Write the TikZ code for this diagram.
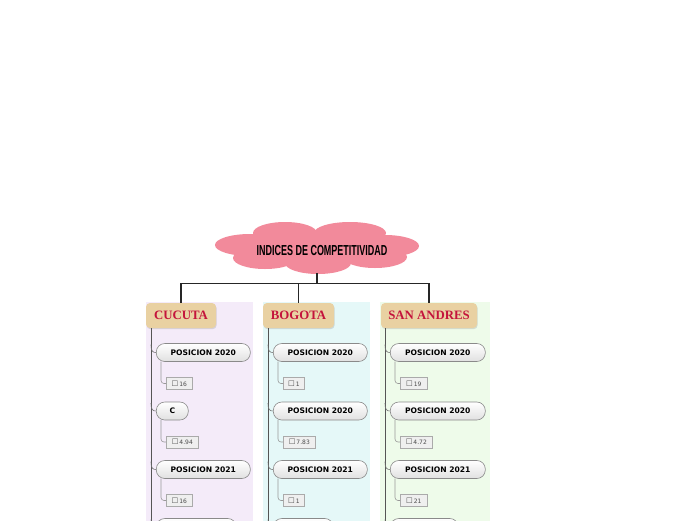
\documentclass[tikz,border=0pt]{standalone}
\usepackage{fontspec}
\setmainfont{Liberation Serif}
\newfontfamily\dvs{DejaVu Sans}
\newfontfamily\lsans{Liberation Sans}
\usetikzlibrary{shadows}
\definecolor{cloudpink}{HTML}{F28A9B}
\definecolor{topicfill}{HTML}{E9D1A2}
\definecolor{topictext}{HTML}{C4143C}
\definecolor{panelA}{HTML}{F4EBF9}
\definecolor{panelB}{HTML}{E5F8F8}
\definecolor{panelC}{HTML}{EEFBEA}
\definecolor{spine}{HTML}{555555}
\definecolor{subborder}{HTML}{8A8A8A}
\definecolor{leafborder}{HTML}{AAAAAA}
\definecolor{leaffill}{HTML}{EFEFEF}
\tikzset{
  main/.style={draw=black!85, line width=1.2pt},
  spineline/.style={draw=spine, line width=0.9pt},
  subconn/.style={draw=black!55, line width=0.6pt},
  leafconn/.style={draw=black!40, line width=0.6pt, rounded corners=3pt},
  topicbox/.style={rectangle, rounded corners=4pt, fill=topicfill, minimum height=25pt,
     font=\bfseries\fontsize{12.8}{13}\selectfont, text=topictext, inner sep=0pt,
     drop shadow={shadow xshift=0.6pt, shadow yshift=-1.2pt, opacity=0.25}},
  subbox/.style={rectangle, rounded corners=8.5pt, draw=subborder, line width=0.6pt,
     top color=white, bottom color=black!12, minimum height=18pt, inner sep=0pt,
     font=\dvs\bfseries\fontsize{7.6}{8}\selectfont, text=black},
  leafbox/.style={rectangle, draw=leafborder, fill=leaffill, line width=0.6pt,
     minimum height=12pt, inner sep=0pt, font=\dvs\fontsize{6}{6}\selectfont, text=black!70},
  panel/.style={fill=#1, draw=none}
}
\newcommand{\chk}{{\fontsize{7.5}{7}\selectfont\char"2610}}
\begin{document}
\begin{tikzpicture}[x=1pt,y=-1pt]
\useasboundingbox (0,0) rectangle (696,520);
\begin{scope}
\clip (0,0) rectangle (696,520);
% panels
\fill[panel=panelA] (146,302) rectangle (253,530);
\fill[panel=panelB] (263,302) rectangle (370,530);
\fill[panel=panelC] (380,302) rectangle (490,530);
% cloud
\begin{scope}[fill=cloudpink]
\fill (285,233) ellipse [x radius=32, y radius=11];
\fill (350,233) ellipse [x radius=36, y radius=11];
\fill (250,245) ellipse [x radius=35, y radius=11];
\fill (385,246) ellipse [x radius=34, y radius=11];
\fill (265,258) ellipse [x radius=32, y radius=11];
\fill (375,257) ellipse [x radius=32, y radius=11];
\fill (318,263) ellipse [x radius=33, y radius=11];
\fill (317,248) ellipse [x radius=78, y radius=17];
\end{scope}
\node[inner sep=0pt] (root) at (322,251) {\scalebox{0.62}[1]{\lsans\bfseries\fontsize{14.5}{14}\selectfont INDICES DE COMPETITIVIDAD}};
\coordinate (rootb) at (317,273);
\coordinate (hub) at (317,284);
% topics
\node[topicbox, minimum width=70pt] (t1) at (181,315.5) {CUCUTA};
\node[topicbox, minimum width=71pt] (t2) at (298.5,315.5) {BOGOTA};
\node[topicbox, minimum width=96pt] (t3) at (429,315.5) {SAN ANDRES};
\draw[main] (rootb) -- (hub);
\draw[main] (t1.north) -- ++(0,-19) -| (t3.north);
\draw[main] (t2.north) -- (t2.north |- hub);
% columns
\foreach \col/\sx/\Wa/\Wb/\Wc/\La/\Lb/\Lc/\Ta/\Tb/\Tc/\Va/\Vb/\Vc/\Wd in {
  1/151/94/32/94/26/32/26/POSICION 2020/C/POSICION 2021/16/4.94/16/80,
  2/268/94/94/94/21/32/21/POSICION 2020/POSICION 2020/POSICION 2021/1/7.83/1/60,
  3/385/95/95/95/27/32/27/POSICION 2020/POSICION 2020/POSICION 2021/19/4.72/21/68}{
  \coordinate (sp\col) at (\sx,328);
  \coordinate (se\col) at (\sx,530);
  \draw[spineline] (sp\col) -- (se\col);
  \foreach \k/\yy/\W/\LW/\txt/\val in {a/352.5/\Wa/\La/\Ta/\Va, b/411/\Wb/\Lb/\Tb/\Vb, c/469.5/\Wc/\Lc/\Tc/\Vc}{
    \node[subbox, minimum width=\W pt, anchor=west] (s\col\k) at (\sx+5,\yy) {\txt};
    \coordinate (sc\col\k) at (\sx,\yy-8);
    \draw[subconn] (sc\col\k) .. controls (\sx,\yy-1) and (\sx+2,\yy) .. (s\col\k.west);
    \node[leafbox, minimum width=\LW pt, anchor=west] (l\col\k) at (\sx+15,\yy+31) {\chk\,\val};
    \coordinate (lc\col\k) at (\sx+10,\yy+9);
    \draw[leafconn] (lc\col\k) |- (l\col\k.west);
  }
  \node[subbox, minimum width=\Wd pt, anchor=west] (s\col d) at (\sx+5,527.5) {};
  \coordinate (sc\col d) at (\sx,519.5);
  \draw[subconn] (sc\col d) .. controls (\sx,526) and (\sx+2,527.5) .. (s\col d.west);
}
\end{scope}
\end{tikzpicture}
\end{document}
